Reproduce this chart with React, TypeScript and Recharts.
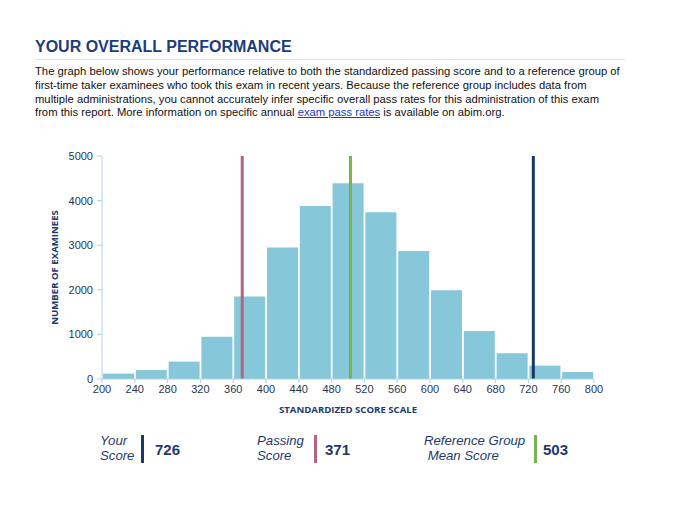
import React from 'react';
import { ComposedChart, Bar, XAxis, YAxis, ReferenceLine } from 'recharts';

// histogram bins (lower edge of each 40-point bin) and examinee counts
const binStarts = [200, 240, 280, 320, 360, 400, 440, 480, 520, 560, 600, 640, 680, 720, 760];
const examinees = [120, 200, 390, 950, 1850, 2950, 3880, 4390, 3740, 2870, 1990, 1075, 575, 300, 157];

const xTicks = [200, 240, 280, 320, 360, 400, 440, 480, 520, 560, 600, 640, 680, 720, 760, 800];
const yTicks = [0, 1000, 2000, 3000, 4000, 5000];

const yourScore = 726;
const passingScore = 371;
const referenceMean = 503;

const BIN_WIDTH = 40;

const data = binStarts.map((start, i) => ({ mid: start + BIN_WIDTH / 2, count: examinees[i] }));

const NAVY = '#1d3a6b';
const BAR = '#86c7da';
const AXIS = '#a9d5e2';
const RED = '#b4647c';
const GREEN = '#7ab24e';
const DARK = '#163a68';
const SANS = '"Liberation Sans", Arial, sans-serif';
const LABEL_FONT = '"Open Sans", "Noto Sans", sans-serif';

const YLabel = ({ viewBox }: any) => {
  if (!viewBox) return null;
  const cx = viewBox.x + 12;
  const cy = viewBox.y + viewBox.height / 2;
  return (
    <text
      x={cx}
      y={cy}
      transform={`rotate(-90 ${cx} ${cy})`}
      textAnchor="middle"
      dominantBaseline="central"
      fontFamily={LABEL_FONT}
      fontWeight={700}
      fontSize={9.6}
      fill={NAVY}
    >
      NUMBER OF EXAMINEES
    </text>
  );
};

const XLabel = ({ viewBox }: any) => {
  if (!viewBox) return null;
  return (
    <text
      x={viewBox.x + viewBox.width / 2}
      y={viewBox.y + 30}
      textAnchor="middle"
      dominantBaseline="central"
      fontFamily={LABEL_FONT}
      fontWeight={700}
      fontSize={9.6}
      fill={NAVY}
    >
      STANDARDIZED SCORE SCALE
    </text>
  );
};

const LegendItem = ({ left, lines, value, color, barLeft, valueLeft }: any) => (
  <>
    <div
      style={{
        position: 'absolute',
        left,
        top: 433,
        fontFamily: SANS,
        fontStyle: 'italic',
        fontSize: 13.2,
        lineHeight: '15px',
        color: NAVY,
        whiteSpace: 'pre',
      }}
    >
      {lines.join('\n')}
    </div>
    <div style={{ position: 'absolute', left: barLeft, top: 435, width: 3, height: 28, background: color }} />
    <div
      style={{
        position: 'absolute',
        left: valueLeft,
        top: 440,
        fontFamily: SANS,
        fontWeight: 700,
        fontSize: 15,
        lineHeight: '20px',
        color: NAVY,
      }}
    >
      {value}
    </div>
  </>
);

export default function App() {
  return (
    <div style={{ position: 'absolute', left: 0, top: 0, width: 680, height: 526, background: '#fff' }}>
      <div
        style={{
          position: 'absolute',
          left: 35,
          top: 38,
          fontFamily: SANS,
          fontWeight: 700,
          fontSize: 16,
          color: '#1b3d7a',
        }}
      >
        YOUR OVERALL PERFORMANCE
      </div>
      <div style={{ position: 'absolute', left: 35, top: 59, width: 590, height: 1, background: '#e2e2e2' }} />
      <div
        style={{
          position: 'absolute',
          left: 35,
          top: 65,
          fontFamily: SANS,
          fontSize: 11.25,
          lineHeight: '13.8px',
          color: '#111',
          whiteSpace: 'pre',
        }}
      >
        {'The graph below shows your performance relative to both the standardized passing score and to a reference group of\n'}
        {'first-time taker examinees who took this exam in recent years. Because the reference group includes data from\n'}
        {'multiple administrations, you cannot accurately infer specific overall pass rates for this administration of this exam\n'}
        {'from this report. More information on specific annual '}
        <span style={{ color: '#1a35c9', textDecoration: 'underline' }}>exam pass rates</span>
        {' is available on abim.org.'}
      </div>

      <div style={{ position: 'absolute', left: 0, top: 140 }}>
        <ComposedChart
          width={680}
          height={290}
          data={data}
          margin={{ top: 16, right: 86, left: 42, bottom: 21 }}
        >
          <XAxis
            dataKey="mid"
            type="number"
            domain={[200, 800]}
            ticks={xTicks}
            interval={0}
            allowDataOverflow
            stroke={AXIS}
            tickSize={4}
            tickMargin={2}
            height={30}
            tick={{ fill: '#2a3550', fontSize: 11, fontFamily: SANS }}
            label={<XLabel />}
          />
          <YAxis
            type="number"
            domain={[0, 5000]}
            ticks={yTicks}
            interval={0}
            width={60}
            stroke={AXIS}
            tickSize={5}
            tickMargin={4}
            tick={{ fill: '#2a3550', fontSize: 11, fontFamily: SANS }}
            label={<YLabel />}
          />
          <Bar dataKey="count" fill={BAR} barSize={31} isAnimationActive={false} />
          <ReferenceLine x={passingScore} stroke={RED} strokeWidth={3} />
          <ReferenceLine x={referenceMean} stroke={GREEN} strokeWidth={3} />
          <ReferenceLine x={yourScore} stroke={DARK} strokeWidth={3} />
        </ComposedChart>
      </div>

      <LegendItem left={100} lines={['Your', 'Score']} value={yourScore} color={DARK} barLeft={141} valueLeft={155} />
      <LegendItem left={257} lines={['Passing', 'Score']} value={passingScore} color={RED} barLeft={314} valueLeft={325} />
      <LegendItem
        left={424}
        lines={['Reference Group', ' Mean Score']}
        value={referenceMean}
        color={GREEN}
        barLeft={534}
        valueLeft={543}
      />
    </div>
  );
}
